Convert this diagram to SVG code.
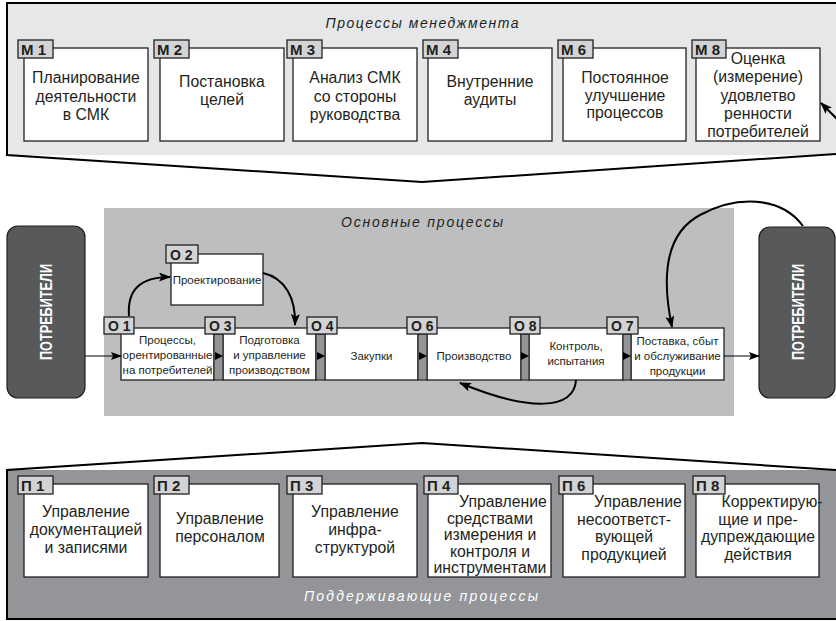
<svg xmlns="http://www.w3.org/2000/svg" width="836" height="621" viewBox="0 0 836 621">
  <defs>
    <style>
      text { font-family: "Liberation Sans", Arial, sans-serif; fill: #231f20; }
      .box { fill: #ffffff; stroke: #231f20; stroke-width: 1.3; }
      .tag { fill: #d1d3d4; stroke: #231f20; stroke-width: 1.3; }
      .stem { fill: #939598; stroke: #231f20; stroke-width: 1.1; }
      .tagtxt { font-weight: bold; font-size: 15px; }
      .otag { font-weight: bold; font-size: 14px; }
      .big { font-size: 15.8px; text-anchor: middle; }
      .small { font-size: 11.5px; text-anchor: middle; }
      .title { font-style: italic; font-size: 14px; text-anchor: middle; }
      .cust { fill: #58595b; stroke: #231f20; stroke-width: 1.2; }
      .custtxt { fill: #ffffff; font-weight: bold; font-size: 17px; text-anchor: middle; }
      .frame { fill: none; stroke: #000; stroke-width: 2; }
      .curve { fill: none; stroke: #000; stroke-width: 2; }
      .line { fill: none; stroke: #000; stroke-width: 1.2; }
    </style>
    <marker id="arrow" viewBox="0 0 12 9" refX="11" refY="4.5" markerWidth="12" markerHeight="9" markerUnits="userSpaceOnUse" orient="auto">
      <path d="M0,0 L12,4.5 L0,9 L2.5,4.5 z" fill="#000"/>
    </marker>
    <marker id="arrowS" viewBox="0 0 11 8" refX="10" refY="4" markerWidth="11" markerHeight="8" markerUnits="userSpaceOnUse" orient="auto">
      <path d="M0,0 L11,4 L0,8 L2,4 z" fill="#000"/>
    </marker>
  </defs>

  <!-- panels -->
  <g id="panel-management">
    <rect x="7" y="3" width="829" height="152" fill="#e6e7e8"/>
    <polyline class="frame" points="836,3 7,3 7,155 422,182 836,154"/>
    <text class="title" x="422" y="28" textLength="193" lengthAdjust="spacing">Процессы менеджмента</text>
  </g>
  <g id="panel-main">
    <rect x="104" y="208" width="630" height="208" fill="#bcbec0"/>
    <text class="title" x="422" y="227" textLength="162" lengthAdjust="spacing">Основные процессы</text>
  </g>
  <g id="panel-support">
    <rect x="7" y="470" width="829" height="149" fill="#939598"/>
    <polyline class="frame" points="836,470 422,443 7,470 7,619 836,619"/>
    <text class="title" x="421" y="601" textLength="234" lengthAdjust="spacing" style="fill:#ffffff">Поддерживающие процессы</text>
  </g>

  <!-- management processes -->
  <g id="M1">
    <rect class="box" x="24" y="48" width="124" height="93"/>
    <rect class="tag" x="18" y="40" width="35" height="18"/>
    <text class="tagtxt" x="21" y="54.5">М 1</text>
    <text class="big" x="86" y="83">Планирование</text>
    <text class="big" x="86" y="101.5">деятельности</text>
    <text class="big" x="86" y="120">в СМК</text>
  </g>
  <g id="M2">
    <rect class="box" x="160" y="48" width="124" height="93"/>
    <rect class="tag" x="154" y="40" width="35" height="18"/>
    <text class="tagtxt" x="157" y="54.5">М 2</text>
    <text class="big" x="222" y="86.5">Постановка</text>
    <text class="big" x="222" y="104.5">целей</text>
  </g>
  <g id="M3">
    <rect class="box" x="293" y="48" width="124" height="93"/>
    <rect class="tag" x="287" y="40" width="35" height="18"/>
    <text class="tagtxt" x="290" y="54.5">М 3</text>
    <text class="big" x="355" y="83">Анализ СМК</text>
    <text class="big" x="355" y="101.5">со стороны</text>
    <text class="big" x="355" y="120">руководства</text>
  </g>
  <g id="M4">
    <rect class="box" x="428" y="48" width="124" height="93"/>
    <rect class="tag" x="423" y="40" width="35" height="18"/>
    <text class="tagtxt" x="426" y="54.5">М 4</text>
    <text class="big" x="490" y="86.5">Внутренние</text>
    <text class="big" x="490" y="104.5">аудиты</text>
  </g>
  <g id="M6">
    <rect class="box" x="563" y="48" width="123" height="93"/>
    <rect class="tag" x="558" y="40" width="35" height="18"/>
    <text class="tagtxt" x="561" y="54.5">М 6</text>
    <text class="big" x="625" y="83">Постоянное</text>
    <text class="big" x="625" y="100.5">улучшение</text>
    <text class="big" x="625" y="118">процессов</text>
  </g>
  <g id="M8">
    <rect class="box" x="696" y="48" width="124" height="93"/>
    <rect class="tag" x="692" y="40" width="34" height="18"/>
    <text class="tagtxt" x="695" y="54.5">М 8</text>
    <text class="big" x="758" y="63.5">Оценка</text>
    <text class="big" x="758" y="82">(измерение)</text>
    <text class="big" x="758" y="100.5">удовлетво</text>
    <text class="big" x="758" y="118.5">ренности</text>
    <text class="big" x="758" y="137">потребителей</text>
  </g>

  <!-- customers -->
  <g id="customers-in">
    <rect class="cust" x="7" y="226" width="78" height="172" rx="11"/>
    <text class="custtxt" transform="translate(52 312) rotate(-90)" x="0" y="0" textLength="96" lengthAdjust="spacingAndGlyphs">ПОТРЕБИТЕЛИ</text>
  </g>
  <g id="customers-out">
    <rect class="cust" x="759" y="227" width="76" height="171" rx="11"/>
    <text class="custtxt" transform="translate(804 312) rotate(-90)" x="0" y="0" textLength="96" lengthAdjust="spacingAndGlyphs">ПОТРЕБИТЕЛИ</text>
  </g>

  <!-- main processes -->
  <g id="O2">
    <rect class="box" x="171" y="254" width="92" height="51"/>
    <rect class="tag" x="166" y="245" width="32" height="18"/>
    <text class="otag" x="170" y="259.5">О 2</text>
    <text class="small" x="217" y="284">Проектирование</text>
  </g>
  <g id="O1">
    <rect class="box" x="121" y="328" width="93" height="52"/>
    <rect class="tag" x="104" y="317" width="30" height="17"/>
    <text class="otag" x="108" y="331">О 1</text>
    <text class="small" x="167.5" y="344">Процессы,</text>
    <text class="small" x="167.5" y="359">орентированные</text>
    <text class="small" x="167.5" y="374">на потребителей</text>
  </g>
  <g id="O3">
    <rect class="box" x="223" y="328" width="93" height="52"/>
    <rect class="stem" x="214" y="334" width="9" height="46"/>
    <rect class="tag" x="205" y="317" width="30" height="17"/>
    <text class="otag" x="209" y="331">О 3</text>
    <text class="small" x="269.5" y="344">Подготовка</text>
    <text class="small" x="269.5" y="359">и управление</text>
    <text class="small" x="269.5" y="374">производством</text>
  </g>
  <g id="O4">
    <rect class="box" x="325" y="328" width="93" height="52"/>
    <rect class="stem" x="316" y="334" width="9" height="46"/>
    <rect class="tag" x="307" y="317" width="30" height="17"/>
    <text class="otag" x="311" y="331">О 4</text>
    <text class="small" x="371.5" y="360">Закупки</text>
  </g>
  <g id="O6">
    <rect class="box" x="427" y="328" width="94" height="52"/>
    <rect class="stem" x="418" y="334" width="9" height="46"/>
    <rect class="tag" x="407" y="317" width="30" height="17"/>
    <text class="otag" x="411" y="331">О 6</text>
    <text class="small" x="474" y="360">Производство</text>
  </g>
  <g id="O8">
    <rect class="box" x="529" y="328" width="94" height="52"/>
    <rect class="stem" x="521" y="334" width="8" height="46"/>
    <rect class="tag" x="510" y="317" width="30" height="17"/>
    <text class="otag" x="514" y="331">О 8</text>
    <text class="small" x="576" y="350">Контроль,</text>
    <text class="small" x="576" y="365">испытания</text>
  </g>
  <g id="O7">
    <rect class="box" x="631" y="328" width="93" height="52"/>
    <rect class="stem" x="623" y="334" width="8" height="46"/>
    <rect class="tag" x="607" y="317" width="31" height="17"/>
    <text class="otag" x="611" y="331">О 7</text>
    <text class="small" x="677.5" y="345">Поставка, сбыт</text>
    <text class="small" x="677.5" y="360">и обслуживание</text>
    <text class="small" x="677.5" y="375">продукции</text>
  </g>

  <!-- support processes -->
  <g id="P1">
    <rect class="box" x="24" y="484" width="124" height="93"/>
    <rect class="tag" x="18" y="476" width="35" height="18"/>
    <text class="tagtxt" x="21" y="490.5">П 1</text>
    <text class="big" x="86" y="517">Управление</text>
    <text class="big" x="86" y="535">документацией</text>
    <text class="big" x="86" y="553">и записями</text>
  </g>
  <g id="P2">
    <rect class="box" x="160" y="484" width="119" height="93"/>
    <rect class="tag" x="154" y="476" width="35" height="18"/>
    <text class="tagtxt" x="157" y="490.5">П 2</text>
    <text class="big" x="220" y="524">Управление</text>
    <text class="big" x="220" y="542">персоналом</text>
  </g>
  <g id="P3">
    <rect class="box" x="293" y="484" width="124" height="93"/>
    <rect class="tag" x="287" y="476" width="35" height="18"/>
    <text class="tagtxt" x="290" y="490.5">П 3</text>
    <text class="big" x="355" y="517">Управление</text>
    <text class="big" x="355" y="535">инфра-</text>
    <text class="big" x="355" y="553">структурой</text>
  </g>
  <g id="P4">
    <rect class="box" x="428" y="484" width="123" height="93"/>
    <rect class="tag" x="424" y="476" width="34" height="18"/>
    <text class="tagtxt" x="427" y="490.5">П 4</text>
    <text class="big" x="503" y="507">Управление</text>
    <text class="big" x="490" y="523.5">средствами</text>
    <text class="big" x="490" y="540">измерения и</text>
    <text class="big" x="490" y="556.5">контроля и</text>
    <text class="big" x="490" y="573">инструментами</text>
  </g>
  <g id="P6">
    <rect class="box" x="563" y="484" width="122" height="93"/>
    <rect class="tag" x="559" y="476" width="34" height="18"/>
    <text class="tagtxt" x="562" y="490.5">П 6</text>
    <text class="big" x="638" y="507">Управление</text>
    <text class="big" x="624" y="524.5">несоответст-</text>
    <text class="big" x="624" y="542">вующей</text>
    <text class="big" x="624" y="559.5">продукцией</text>
  </g>
  <g id="P8">
    <rect class="box" x="696" y="484" width="123" height="93"/>
    <rect class="tag" x="693" y="476" width="32" height="18"/>
    <text class="tagtxt" x="696" y="490.5">П 8</text>
    <text class="big" x="772" y="507">Корректирую-</text>
    <text class="big" x="758" y="524.5">щие и пре-</text>
    <text class="big" x="758" y="542">дупреждающие</text>
    <text class="big" x="758" y="559.5">действия</text>
  </g>

  <!-- connectors -->
  <g id="connectors">
    <line class="line" x1="85" y1="356" x2="121" y2="356" marker-end="url(#arrowS)"/>
    <line class="line" x1="724" y1="356" x2="759" y2="356" marker-end="url(#arrowS)"/>
    <path d="M215,352 L223,356 L215,360 z" fill="#000"/>
    <path d="M317,352 L325,356 L317,360 z" fill="#000"/>
    <path d="M419,352 L427,356 L419,360 z" fill="#000"/>
    <path d="M521,352 L529,356 L521,360 z" fill="#000"/>
    <path d="M623,352 L631,356 L623,360 z" fill="#000"/>
    <path class="curve" d="M129,316 C127,290 140,277 170,277" marker-end="url(#arrow)"/>
    <path class="curve" d="M263,273 C285,278 296,298 295,325" marker-end="url(#arrow)"/>
    <path class="curve" d="M803,226 C780,195 735,196 700,215 C668,232 660,270 672,327" marker-end="url(#arrow)"/>
    <path class="curve" d="M576,380 C574,410 530,412 460,383" marker-end="url(#arrow)"/>
    <line class="curve" x1="840" y1="122" x2="821" y2="103" marker-end="url(#arrow)"/>
  </g>
</svg>
